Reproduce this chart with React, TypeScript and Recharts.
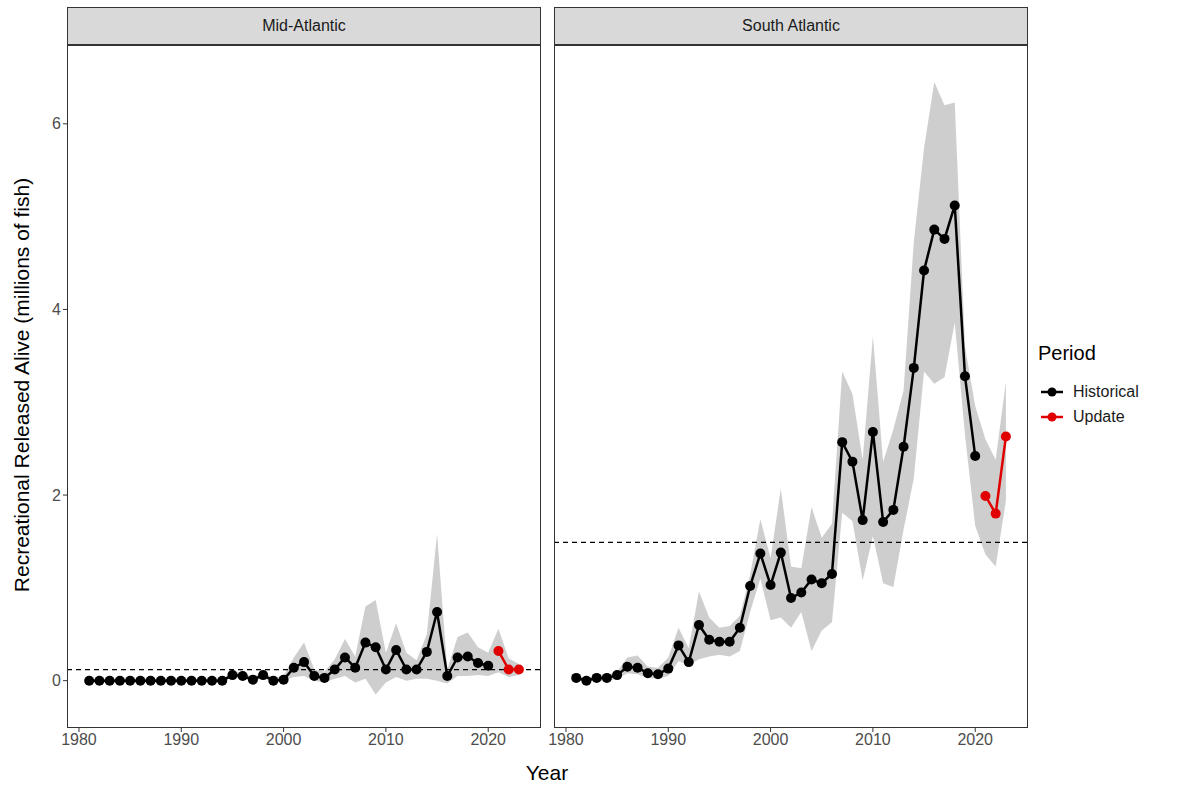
import { ComposedChart, Line, Area, XAxis, YAxis, ReferenceLine } from "recharts";

const years = Array.from({ length: 43 }, (_, i) => 1981 + i);

// Mid-Atlantic
const midHist = [0, 0, 0, 0, 0, 0, 0, 0, 0, 0, 0, 0, 0, 0, 0.06, 0.05, 0.01, 0.06, 0, 0.01, 0.14, 0.2, 0.05, 0.03, 0.12, 0.25, 0.14, 0.41, 0.36, 0.12, 0.33, 0.12, 0.12, 0.31, 0.74, 0.05, 0.25, 0.26, 0.19, 0.16];
const midUpd = [0.32, 0.12, 0.12];
const midLo = [0, 0, 0, 0, 0, 0, 0, 0, 0, 0, 0, 0, 0, 0, 0.03, 0.02, 0, 0.02, 0, 0, 0.04, 0.05, 0, -0.02, 0.02, 0.05, -0.02, 0.02, -0.15, -0.02, 0.04, 0, 0.02, 0.02, 0.0, -0.03, 0.05, 0.05, 0.06, 0.05, 0.09, 0.04, 0.06];
const midHi = [0.01, 0.01, 0.01, 0.01, 0.01, 0.01, 0.01, 0.01, 0.01, 0.01, 0.01, 0.01, 0.01, 0.01, 0.1, 0.09, 0.04, 0.1, 0.03, 0.05, 0.25, 0.41, 0.12, 0.1, 0.23, 0.45, 0.26, 0.8, 0.87, 0.3, 0.62, 0.3, 0.22, 0.5, 1.58, 0.12, 0.47, 0.52, 0.36, 0.3, 0.56, 0.24, 0.18];

// South Atlantic
const southHist = [0.03, 0, 0.03, 0.03, 0.06, 0.15, 0.14, 0.08, 0.07, 0.13, 0.38, 0.2, 0.6, 0.44, 0.42, 0.42, 0.57, 1.02, 1.37, 1.03, 1.38, 0.89, 0.95, 1.09, 1.05, 1.15, 2.57, 2.36, 1.73, 2.68, 1.71, 1.84, 2.52, 3.37, 4.42, 4.86, 4.76, 5.12, 3.28, 2.42];
const southUpd = [1.99, 1.8, 2.63];
const southLo = [0, -0.01, 0, 0, 0.02, 0.08, 0.07, 0.03, 0.02, 0.05, 0.21, 0.17, 0.23, 0.26, 0.28, 0.26, 0.32, 0.74, 1.1, 0.65, 0.68, 0.57, 0.74, 0.32, 0.54, 0.63, 1.81, 1.72, 1.08, 1.56, 1.05, 1.01, 1.63, 2.18, 3.33, 3.2, 3.27, 3.86, 2.65, 1.67, 1.36, 1.23, 1.94];
const southHi = [0.06, 0.03, 0.06, 0.06, 0.1, 0.25, 0.27, 0.15, 0.14, 0.25, 0.57, 0.35, 0.96, 0.68, 0.57, 0.59, 0.7, 1.14, 1.74, 1.32, 2.07, 1.23, 1.21, 1.87, 1.54, 1.69, 3.33, 3.09, 2.38, 3.71, 2.36, 2.71, 3.13, 4.73, 5.74, 6.45, 6.2, 6.23, 3.6, 2.96, 2.6, 2.38, 3.22];

const build = (hist: number[], upd: number[], lo: number[], hi: number[]) =>
  years.map((y, i) => ({
    year: y,
    hist: i < hist.length ? hist[i] : null,
    upd: i >= hist.length ? upd[i - hist.length] : null,
    band: [lo[i], hi[i]],
  }));

const panels = [
  { title: "Mid-Atlantic", data: build(midHist, midUpd, midLo, midHi), ref: 0.12 },
  { title: "South Atlantic", data: build(southHist, southUpd, southLo, southHi), ref: 1.49 },
];

const font = "Arial, 'Liberation Sans', sans-serif";
const tickStyle = { fill: "#4d4d4d", fontSize: 16, fontFamily: font };

function Panel({ title, data, refY, left, showY }: any) {
  const yW = showY ? 67 : 0;
  const mL = showY ? 0 : 20;
  const off = yW + mL;
  const w = 474 + off;
  return (
    <div style={{ position: "absolute", left: left - off, top: 0 }}>
      <ComposedChart width={w} height={790} data={data} margin={{ top: 44, right: 0, bottom: 0, left: mL }}>
        <XAxis dataKey="year" type="number" domain={[1978.83, 2025.16]} ticks={[1980, 1990, 2000, 2010, 2020]} interval={0}
          allowDataOverflow height={62} tick={tickStyle} tickSize={4} stroke="#333" axisLine={false} tickLine={{ stroke: "#333" }} />
        <YAxis type="number" domain={[-0.51, 6.86]} ticks={[0, 2, 4, 6]} allowDataOverflow width={yW} hide={!showY} interval={0}
          tick={tickStyle} tickSize={4} axisLine={false} tickLine={{ stroke: "#333" }} />
        <Area dataKey="band" stroke="none" fill="#bdbdbd" fillOpacity={0.75} isAnimationActive={false} />
        <ReferenceLine y={refY} stroke="#000" strokeDasharray="5 4" strokeWidth={1.2} />
        <Line dataKey="hist" stroke="#000" strokeWidth={2.5} dot={{ r: 5, fill: "#000", stroke: "#000", strokeWidth: 0 }} isAnimationActive={false} />
        <Line dataKey="upd" stroke="#e00000" strokeWidth={2.5} dot={{ r: 5, fill: "#e00000", stroke: "#e00000", strokeWidth: 0 }} isAnimationActive={false} />
      </ComposedChart>
      <div style={{ position: "absolute", left: off, top: 7, width: 472, height: 36, background: "#d9d9d9", border: "1px solid #333", borderBottom: "2px solid #333",
        fontFamily: font, fontSize: 16, color: "#1a1a1a", display: "flex", alignItems: "center", justifyContent: "center" }}>{title}</div>
      <div style={{ position: "absolute", left: off, top: 44, width: 472, height: 683, border: "1px solid #333", borderTop: "none", pointerEvents: "none" }} />
    </div>
  );
}

export default function App() {
  return (
    <div style={{ position: "absolute", left: 0, top: 0, width: 1193, height: 790, background: "#fff", fontFamily: font }}>
      <Panel title={panels[0].title} data={panels[0].data} refY={panels[0].ref} left={67} showY />
      <Panel title={panels[1].title} data={panels[1].data} refY={panels[1].ref} left={554} showY={false} />
      <div style={{ position: "absolute", left: 22, top: 385, transform: "translate(-50%,-50%) rotate(-90deg)", whiteSpace: "nowrap", fontSize: 21, color: "#000" }}>
        Recreational Released Alive (millions of fish)
      </div>
      <div style={{ position: "absolute", left: 547, top: 773, transform: "translate(-50%,-50%)", fontSize: 21 }}>Year</div>
      <div style={{ position: "absolute", left: 1038, top: 342, fontSize: 20 }}>Period</div>
      {[{ n: "Historical", c: "#000" }, { n: "Update", c: "#e00000" }].map((it, i) => (
        <div key={it.n} style={{ position: "absolute", left: 1040, top: 383 + i * 25, display: "flex", alignItems: "center", height: 18 }}>
          <svg width={24} height={18}>
            <line x1={1} y1={9} x2={23} y2={9} stroke={it.c} strokeWidth={2.5} />
            <circle cx={12} cy={9} r={4.5} fill={it.c} />
          </svg>
          <span style={{ marginLeft: 9, fontSize: 16, color: "#1a1a1a" }}>{it.n}</span>
        </div>
      ))}
    </div>
  );
}
